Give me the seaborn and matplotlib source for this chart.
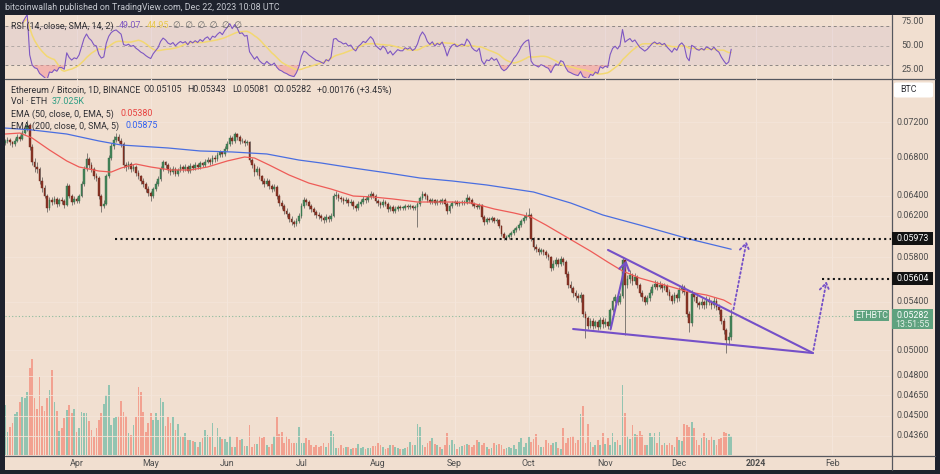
import numpy as np
import pandas as pd
import matplotlib
matplotlib.use("Agg")
import matplotlib.pyplot as plt
import seaborn as sns
from matplotlib.lines import Line2D
from matplotlib.patches import Rectangle, FancyBboxPatch
from matplotlib.ticker import NullLocator

sns.set_theme(style="white")
plt.rcParams['font.family'] = ['Roboto', 'DejaVu Sans']

# ---------------- data (prices in 1e-5 BTC) ----------------
start_date = "2023-03-03"
first_open_e5 = 6960
closes_e5 = [
 6980,7000,6970,6950,6990,7030,7010,7080,7120,7170,
 6920,6760,6700,6680,6550,6480,6400,6280,6360,6340,
 6370,6320,6360,6350,6310,6500,6400,6340,6370,6350,
 6400,6520,6680,6790,6720,6680,6600,6580,6400,6300,
 6320,6600,6800,6930,7000,7030,6990,6950,6720,6700,
 6730,6680,6700,6640,6600,6550,6520,6470,6430,6400,
 6470,6520,6570,6680,6750,6720,6670,6650,6680,6630,
 6670,6700,6680,6700,6660,6710,6690,6720,6700,6740,
 6720,6760,6780,6750,6800,6790,6830,6860,6840,6900,
 6950,7020,6980,7060,7030,6980,6990,6960,6970,6780,
 6720,6650,6680,6600,6550,6520,6550,6500,6470,6490,
 6400,6330,6300,6250,6220,6170,6140,6120,6150,6200,
 6300,6360,6340,6300,6270,6240,6210,6200,6180,6160,
 6190,6170,6200,6400,6410,6380,6370,6350,6360,6330,
 6340,6300,6280,6320,6340,6370,6360,6390,6420,6400,
 6350,6330,6310,6340,6320,6270,6290,6250,6270,6290,
 6280,6280,6300,6290,6300,6280,6290,6320,6380,6420,
 6400,6360,6340,6360,6330,6350,6340,6360,6320,6250,
 6300,6330,6340,6320,6330,6340,6330,6380,6360,6320,
 6300,6290,6310,6190,6140,6170,6160,6180,6150,6160,
 6100,6020,5980,5990,6010,6030,6060,6080,6110,6150,
 6180,6200,6210,5970,5900,5880,5850,5870,5850,5820,
 5800,5700,5740,5770,5740,5780,5760,5650,5550,5520,
 5480,5450,5430,5460,5300,5260,5200,5240,5200,5230,
 5190,5250,5210,5230,5200,5330,5410,5440,5400,5450,
 5770,5550,5600,5640,5580,5620,5550,5480,5440,5400,
 5430,5480,5530,5560,5530,5550,5520,5540,5490,5450,
 5410,5460,5430,5500,5530,5490,5300,5220,5470,5440,
 5390,5370,5400,5370,5420,5400,5370,5410,5360,5330,
 5240,5160,5080,5105,5282]
highs_e5 = [
 7010,7030,7020,6990,7020,7060,7050,7110,7160,7230,
 7190,6950,6800,6760,6700,6590,6510,6420,6390,6390,
 6400,6390,6380,6390,6370,6530,6520,6420,6400,6390,
 6420,6550,6710,6850,6810,6750,6700,6640,6600,6420,
 6360,6630,6830,6960,7040,7080,7060,7020,6970,6760,
 6770,6750,6730,6720,6670,6620,6580,6540,6500,6450,
 6490,6550,6600,6710,6780,6770,6740,6700,6710,6700,
 6690,6730,6720,6730,6720,6740,6730,6750,6740,6770,
 6760,6790,6810,6800,6830,6830,6860,6890,6880,6930,
 6980,7050,7040,7090,7080,7050,7020,7010,7000,6990,
 6800,6740,6710,6700,6620,6580,6580,6570,6520,6520,
 6510,6420,6360,6320,6280,6240,6200,6160,6180,6230,
 6330,6390,6380,6360,6320,6290,6260,6240,6220,6200,
 6220,6210,6230,6430,6450,6430,6400,6390,6390,6380,
 6370,6360,6320,6350,6370,6400,6390,6420,6450,6440,
 6420,6370,6350,6370,6360,6340,6310,6310,6300,6310,
 6310,6300,6320,6320,6320,6310,6310,6340,6400,6450,
 6440,6420,6380,6380,6370,6370,6370,6380,6380,6340,
 6320,6350,6360,6360,6350,6360,6360,6420,6400,6380,
 6340,6320,6330,6320,6210,6190,6190,6200,6190,6180,
 6170,6110,6040,6010,6030,6050,6080,6100,6130,6170,
 6210,6240,6280,6230,5990,5920,5900,5890,5880,5870,
 5840,5810,5770,5800,5790,5810,5800,5770,5670,5580,
 5540,5500,5480,5490,5470,5320,5280,5260,5260,5250,
 5250,5270,5270,5260,5240,5350,5440,5470,5460,5480,
 5800,5790,5640,5680,5660,5660,5640,5570,5500,5460,
 5460,5510,5560,5590,5580,5580,5570,5570,5560,5510,
 5470,5490,5480,5530,5560,5550,5500,5320,5500,5490,
 5460,5410,5430,5420,5450,5440,5420,5440,5430,5380,
 5340,5260,5180,5150,5343]
lows_e5 = [
 6940,6960,6945,6920,6935,6975,6990,7000,7060,7100,
 6890,6720,6650,6640,6520,6440,6380,6240,6260,6310,
 6320,6290,6300,6320,6280,6300,6380,6310,6320,6330,
 6330,6390,6500,6660,6690,6650,6570,6550,6370,6240,
 6280,6310,6580,6780,6900,6970,6960,6920,6690,6660,
 6680,6650,6660,6610,6570,6520,6490,6440,6400,6350,
 6380,6450,6500,6550,6660,6690,6640,6620,6630,6600,
 6610,6650,6650,6660,6640,6640,6670,6670,6680,6680,
 6700,6700,6740,6720,6730,6760,6770,6810,6810,6820,
 6880,6930,6950,6960,7000,6950,6960,6930,6940,6750,
 6690,6610,6620,6570,6520,6490,6500,6470,6440,6450,
 6370,6300,6270,6220,6190,6140,6110,6090,6100,6130,
 6180,6280,6310,6270,6240,6210,6180,6170,6150,6130,
 6140,6140,6150,6190,6370,6350,6340,6320,6330,6300,
 6310,6270,6250,6260,6300,6320,6330,6340,6370,6380,
 6330,6300,6280,6290,6300,6240,6250,6230,6230,6250,
 6260,6260,6260,6270,6270,6260,6260,6090,6300,6360,
 6370,6340,6320,6320,6310,6310,6320,6320,6300,6220,
 6230,6280,6310,6300,6300,6310,6310,6320,6330,6300,
 6280,6270,6270,6170,6110,6120,6140,6140,6130,6130,
 6080,6000,5960,5960,5970,5990,6010,6040,6060,6090,
 6130,6160,6180,5950,5870,5850,5820,5830,5820,5790,
 5770,5670,5680,5720,5710,5720,5730,5620,5520,5490,
 5440,5420,5400,5400,5270,5100,5170,5180,5170,5180,
 5160,5170,5180,5190,5170,5190,5310,5390,5370,5380,
 5430,5120,5520,5570,5550,5560,5520,5450,5410,5370,
 5380,5410,5460,5510,5500,5510,5490,5500,5460,5420,
 5380,5390,5400,5410,5480,5460,5270,5150,5200,5410,
 5360,5340,5350,5340,5350,5370,5340,5350,5330,5300,
 5210,5130,4980,5050,5081]
volumes_k = [
 100,46,56,64,82,86,106,116,114,126,
 174,192,114,92,156,98,88,114,130,170,
 106,88,48,54,74,90,100,84,92,46,
 54,86,84,84,68,50,36,54,70,84,
 102,120,140,60,74,76,78,108,86,78,
 44,40,60,76,136,126,86,46,64,84,
 70,84,70,114,106,58,76,64,76,50,
 62,38,36,44,30,30,28,26,16,26,
 34,50,40,36,64,16,54,36,32,32,
 26,38,16,16,36,30,32,18,18,60,
 16,22,22,38,34,36,20,16,22,38,
 76,42,46,24,38,32,24,24,24,56,
 24,24,34,30,20,16,20,16,18,24,
 16,24,48,42,14,14,20,14,16,16,
 12,14,14,22,14,16,12,14,14,18,
 18,24,20,16,12,14,20,20,16,14,
 12,12,14,16,26,20,20,62,56,20,
 16,24,28,34,22,20,16,12,20,44,
 20,30,22,12,16,18,20,22,
 20,16,20,30,26,20,24,16,12,14,
 24,20,22,20,12,14,16,14,20,12,
 26,34,16,24,36,26,32,42,20,16,
 16,30,24,20,24,26,14,12,54,24,
 34,36,38,24,30,82,98,24,62,26,
 16,20,30,20,44,22,34,20,44,26,
 30,20,140,84,38,32,60,42,40,48,
 40,20,20,44,36,44,24,46,20,24,
 20,24,20,16,36,30,28,62,60,56,
 66,54,30,20,34,44,34,30,38,30,
 20,32,34,46,44,42,37.025]

ema50_dates = ["2023-03-03","2023-03-09","2023-03-14","2023-03-21","2023-03-28","2023-04-02",
               "2023-04-10","2023-04-15","2023-04-19","2023-04-25","2023-05-01","2023-05-09",
               "2023-05-17","2023-05-24","2023-06-01","2023-06-08","2023-06-12","2023-06-18",
               "2023-06-26","2023-07-04","2023-07-13","2023-07-22","2023-07-30","2023-08-07",
               "2023-08-17","2023-08-31","2023-09-08","2023-09-17","2023-09-25","2023-10-02",
               "2023-10-08","2023-10-17","2023-10-26","2023-11-02","2023-11-08","2023-11-15",
               "2023-11-22","2023-11-28","2023-12-05","2023-12-12","2023-12-19","2023-12-22"]
ema50_values = [0.07064,0.07075,0.07019,0.06886,0.06766,0.06701,0.06658,0.06647,0.06690,0.06733,
                0.06701,0.06669,0.06669,0.06701,0.06766,0.06809,0.06798,0.06722,0.06616,0.06531,
                0.06469,0.06397,0.06387,0.06367,0.06336,0.06336,0.06326,0.06266,0.06226,0.06186,
                0.06107,0.05981,0.05858,0.05756,0.05674,0.05610,0.05566,0.05530,0.05486,0.05460,
                0.05416,0.05380]
sma200_dates = ["2023-03-03","2023-03-14","2023-03-28","2023-04-10","2023-04-19","2023-05-08",
                "2023-05-21","2023-06-03","2023-06-17","2023-06-30","2023-07-09","2023-07-22",
                "2023-08-05","2023-08-18","2023-08-31","2023-09-14","2023-10-03","2023-10-18",
                "2023-10-31","2023-11-15","2023-12-05","2023-12-22"]
sma200_values = [0.07132,0.07110,0.07064,0.06986,0.06941,0.06908,0.06875,0.06864,0.06842,0.06776,
                 0.06744,0.06690,0.06637,0.06584,0.06553,0.06511,0.06438,0.06326,0.06206,0.06107,
                 0.05972,0.05875]

price_ticks = [0.07200, 0.06800, 0.06400, 0.06200, 0.05800, 0.05400, 0.05000,
               0.04800, 0.04650, 0.04500, 0.04360]
rsi_ticks = [75, 50, 25]
month_labels = ["Apr", "May", "Jun", "Jul", "Aug", "Sep", "Oct", "Nov", "Dec", "2024", "Feb"]
month_dates = ["2023-04-01", "2023-05-01", "2023-06-01", "2023-07-01", "2023-08-01", "2023-09-01",
               "2023-10-01", "2023-11-01", "2023-12-01", "2024-01-01", "2024-02-01"]

level_prices = [0.05973, 0.05604]
level_starts = ["2023-04-16 12:00", "2024-01-27 19:00"]
last_price = 0.05282
last_price_line_end = "2024-02-12 08:00"

wedge_upper = [("2023-11-02 03:00", 0.05868), ("2024-01-24 02:00", 0.04976)]
wedge_lower = [("2023-10-19 00:00", 0.05171), ("2024-01-24 02:00", 0.04976)]
rally_arrow = [("2023-11-02 22:00", 0.05146), ("2023-11-09 19:00", 0.05794)]
target_path1 = [("2023-12-22 17:00", 0.05313), ("2023-12-28 10:00", 0.05973)]
target_path2 = [("2024-01-24 02:00", 0.04980), ("2024-01-29 19:00", 0.05604)]

# ---------------- style ----------------
DARK = "#1e222d"
PEACH = "#f1dfd0"
GRID = "#f4e5da"
GREEN = "#46855a"
RED = "#8a3526"
WICK = "#6f6a66"
VGREEN = "#93c4b1"
VRED = "#f2a190"
EMA_RED = "#ee5b57"
SMA_BLUE = "#4a6ee0"
PURPLE = "#7550c8"
RSI_PURPLE = "#7e57c2"
RSI_YELLOW = "#f3d872"
TXT = "#2e2e33"
AXTXT = "#4d4d4d"
LBL_GREEN = "#5fa27f"

W, H = 940, 474
def fx(px): return px / W
def fy(py): return 1 - py / H

date0 = pd.Timestamp(start_date)
def xi(d):
    return (pd.Timestamp(d) - date0) / pd.Timedelta(days=1)

n = len(closes_e5)
xs = np.arange(n)
close = np.array(closes_e5) / 1e5
high = np.array(highs_e5) / 1e5
low = np.array(lows_e5) / 1e5
open_ = np.concatenate([[first_open_e5 / 1e5], close[:-1]])
up = close >= open_
vol = np.array(volumes_k, dtype=float)

XMIN, XMAX = -0.2, 358.7
YMIN, YMAX = 0.04227, 0.07714

fig = plt.figure(figsize=(W / 100, H / 100), dpi=100)
fig.patch.set_facecolor(DARK)
fig.add_artist(Rectangle((fx(4.5), fy(470)), fx(935) - fx(4.5), (470 - 14.5) / H,
                         transform=fig.transFigure, facecolor=PEACH, edgecolor="none", zorder=0))

ax_rsi = fig.add_axes([fx(4.5), fy(78), fx(891) - fx(4.5), (78 - 14.5) / H])
ax = fig.add_axes([fx(4.5), fy(455), fx(891) - fx(4.5), (455 - 79) / H])
vax = ax.twinx()
ax.set_zorder(3)
vax.set_zorder(2)
for a in (ax, ax_rsi, vax):
    a.patch.set_visible(False)
    for s in a.spines.values():
        s.set_visible(False)

month_x = [xi(d) for d in month_dates]

# ---------------- volume ----------------
for mx in month_x:
    vax.axvline(mx, color=GRID, lw=0.8, zorder=0)
vax.bar(xs, vol, width=0.7, color=np.where(up, VGREEN, VRED), linewidth=0, zorder=2)
vax.set_ylim(0, 752)
vax.set_xlim(XMIN, XMAX)

# ---------------- main pane ----------------
ax.set_yscale("log")
for t in price_ticks:
    ax.axhline(t, color=GRID, lw=0.7, zorder=0, alpha=0.8)

ax.vlines(xs, low, high, color=WICK, lw=0.6, zorder=3)
body_bottom = np.minimum(open_, close)
body_h = np.maximum(np.abs(close - open_), close * 0.0009)
ax.bar(xs, body_h, bottom=body_bottom, width=0.7, color=np.where(up, GREEN, RED),
       edgecolor=np.where(up, "#2f6b45", "#6e2519"), linewidth=0.3, zorder=4)

sns.lineplot(x=[xi(d) for d in sma200_dates], y=sma200_values, ax=ax, color=SMA_BLUE,
             lw=0.9, estimator=None, sort=False, legend=False, zorder=5)
sns.lineplot(x=[xi(d) for d in ema50_dates], y=ema50_values, ax=ax, color=EMA_RED,
             lw=0.9, estimator=None, sort=False, legend=False, zorder=5)

# last price dotted line
ax.plot([XMIN, xi(last_price_line_end)], [last_price, last_price],
        color="#8dbb9d", lw=0.8, ls=(0, (1, 2)), zorder=2)
# horizontal levels
for lvl, st in zip(level_prices, level_starts):
    ax.plot([xi(st), XMAX], [lvl, lvl], color="#151515", lw=1.5, ls=(0, (1, 1.6)), zorder=6)

# wedge
for seg in (wedge_upper, wedge_lower):
    ax.plot([xi(seg[0][0]), xi(seg[1][0])], [seg[0][1], seg[1][1]], color=PURPLE, lw=1.5,
            solid_capstyle="round", zorder=7)
ax.annotate("", xy=(xi(rally_arrow[1][0]), rally_arrow[1][1]),
            xytext=(xi(rally_arrow[0][0]), rally_arrow[0][1]),
            arrowprops=dict(arrowstyle="->,head_length=0.45,head_width=0.3", color=PURPLE, lw=1.5),
            zorder=7)
for path in (target_path1, target_path2):
    ax.annotate("", xy=(xi(path[1][0]), path[1][1]), xytext=(xi(path[0][0]), path[0][1]),
                arrowprops=dict(arrowstyle="->,head_length=0.45,head_width=0.3", color=PURPLE,
                                lw=1.3, linestyle=(0, (1, 1.5))), zorder=7)

ax.set_xlim(XMIN, XMAX)
ax.set_ylim(YMIN, YMAX)
for a in (ax, vax, ax_rsi):
    a.set_xlabel("")
    a.set_ylabel("")
    a.tick_params(which="both", left=False, right=False, bottom=False, top=False,
                  labelleft=False, labelright=False, labelbottom=False)
ax.yaxis.set_minor_locator(NullLocator())
ax.yaxis.set_major_locator(NullLocator())
ax.xaxis.set_major_locator(NullLocator())
vax.yaxis.set_major_locator(NullLocator())
vax.xaxis.set_major_locator(NullLocator())

# ---------------- RSI pane ----------------
cs = pd.Series(close)
delta = cs.diff()
gain = delta.clip(lower=0)
loss = (-delta).clip(lower=0)
ag = gain.ewm(alpha=1 / 14, adjust=True, min_periods=7).mean()
al = loss.ewm(alpha=1 / 14, adjust=True, min_periods=7).mean()
rsi = 100 - 100 / (1 + ag / al)
rsi_sma = rsi.rolling(14, min_periods=1).mean()

for mx in month_x:
    ax_rsi.axvline(mx, color=GRID, lw=0.8, zorder=0)
ax_rsi.axhspan(30, 70, color=RSI_PURPLE, alpha=0.08, lw=0, zorder=0)
ax_rsi.axhline(70, color="#8d8784", lw=0.7, ls=(0, (3, 3)), zorder=1)
ax_rsi.axhline(30, color="#8d8784", lw=0.7, ls=(0, (3, 3)), zorder=1)
ax_rsi.axhline(50, color="#b3a9a6", lw=0.7, ls=(0, (3, 3)), zorder=1)
ax_rsi.fill_between(xs, rsi, 30, where=(rsi < 30), interpolate=True, color="#f39c9b",
                    alpha=0.6, lw=0, zorder=2)
sns.lineplot(x=xs, y=rsi_sma.values, ax=ax_rsi, color=RSI_YELLOW, lw=1.1, estimator=None,
             legend=False, zorder=3)
sns.lineplot(x=xs, y=rsi.values, ax=ax_rsi, color=RSI_PURPLE, lw=0.8, estimator=None,
             legend=False, zorder=4)
ax_rsi.set_xlim(XMIN, XMAX)
ax_rsi.set_ylim(16.7, 82.3)
ax_rsi.set_xlabel("")
ax_rsi.set_ylabel("")
ax_rsi.xaxis.set_major_locator(NullLocator())
ax_rsi.yaxis.set_major_locator(NullLocator())

# ---------------- separators ----------------
SEP = "#55575e"
fig.add_artist(Line2D([fx(4.5), fx(935)], [fy(78.5), fy(78.5)], transform=fig.transFigure, color=SEP, lw=0.9))
fig.add_artist(Line2D([fx(4.5), fx(935)], [fy(455.5), fy(455.5)], transform=fig.transFigure, color=SEP, lw=0.9))
fig.add_artist(Line2D([fx(891.5), fx(891.5)], [fy(14.5), fy(470)], transform=fig.transFigure, color=SEP, lw=0.9))

# ---------------- axis labels ----------------
FS = 6.4
def price_py(p):
    return 455 - 376 * (np.log(p) - np.log(YMIN)) / (np.log(YMAX) - np.log(YMIN))
def rsi_py(r):
    return 78 - 63.5 * (r - 16.7) / (82.3 - 16.7)

for t in price_ticks:
    fig.text(fx(912.5), fy(price_py(t)), f"{t:.5f}", ha="center", va="center", fontsize=FS, color=AXTXT)
for t in rsi_ticks:
    fig.text(fx(912.5), fy(rsi_py(t)), f"{t:.2f}", ha="center", va="center", fontsize=FS, color=AXTXT)

for lvl in level_prices:
    py = price_py(lvl)
    fig.add_artist(Rectangle((fx(892), fy(py + 6.5)), fx(933) - fx(892), 13 / H,
                             transform=fig.transFigure, facecolor="#121212", edgecolor="none", zorder=5))
    fig.text(fx(912.5), fy(py), f"{lvl:.5f}", ha="center", va="center", fontsize=FS, color="white", zorder=6)

py = price_py(last_price)
fig.add_artist(Rectangle((fx(892), fy(py + 13.5)), fx(933) - fx(892), 20 / H,
                         transform=fig.transFigure, facecolor=LBL_GREEN, edgecolor="none", zorder=5))
fig.text(fx(912.5), fy(py - 0.5), f"{last_price:.5f}", ha="center", va="center", fontsize=FS, color="white", zorder=6)
fig.text(fx(912.5), fy(py + 8.5), "13:51:55", ha="center", va="center", fontsize=FS, color="#e4f1e8", zorder=6)
fig.add_artist(Rectangle((fx(853.5), fy(py + 5.5)), fx(889) - fx(853.5), 11 / H,
                         transform=fig.transFigure, facecolor=LBL_GREEN, edgecolor="none", zorder=5))
fig.text(fx(871.3), fy(py), "ETHBTC", ha="center", va="center", fontsize=FS, color="#eef6f0", zorder=6)

fig.add_artist(FancyBboxPatch((fx(894), fy(97.5)), fx(933) - fx(894), 15 / H,
                              boxstyle="round,pad=0,rounding_size=0.003",
                              transform=fig.transFigure, facecolor="white", edgecolor="none", zorder=5))
fig.text(fx(900), fy(90), "BTC", ha="left", va="center", fontsize=FS, color=TXT, zorder=6)

for lab, mx in zip(month_labels, month_x):
    px = 4.5 + (mx - XMIN) / (XMAX - XMIN) * (891 - 4.5)
    fig.text(fx(px), fy(464), lab, ha="center", va="center", fontsize=FS, color=AXTXT,
             fontweight="bold" if lab == "2024" else "normal")

# ---------------- header & legends ----------------
fig.text(fx(5), fy(7.5), "bitcoinwallah published on TradingView.com, Dec 22, 2023 10:08 UTC",
         ha="left", va="center", fontsize=6.4, color="#c5c8cf")

def piece(px, py, s, color=TXT):
    fig.text(fx(px), fy(py), s, ha="left", va="center", fontsize=FS, color=color, zorder=8)

piece(11, 26, "RSI (14, close, SMA, 14, 2)")
piece(119, 26, "49.07", RSI_PURPLE)
piece(147, 26, "44.95", "#e9c94a")
piece(173, 26, "\u2205  \u2205  \u2205  \u2205  \u2205  \u2205", "#6b6b6b")

piece(11, 90, "Ethereum / Bitcoin, 1D, BINANCE")
piece(144, 90, "O0.05105")
piece(187, 90, "H0.05343")
piece(232, 90, "L0.05081")
piece(273, 90, "C0.05282")
piece(317, 90, "+0.00176 (+3.45%)")
piece(11, 102, "Vol \u00b7 ETH")
piece(52, 102, "37.025K", "#2f9e84")
piece(11, 114, "EMA (50, close, 0, EMA, 5)")
piece(121, 114, "0.05380", "#e8413e")
piece(11, 126, "EMA (200, close, 0, SMA, 5)")
piece(126, 126, "0.05875", "#2f5ef0")

fig.savefig("out.png", dpi=100, facecolor=fig.get_facecolor())
